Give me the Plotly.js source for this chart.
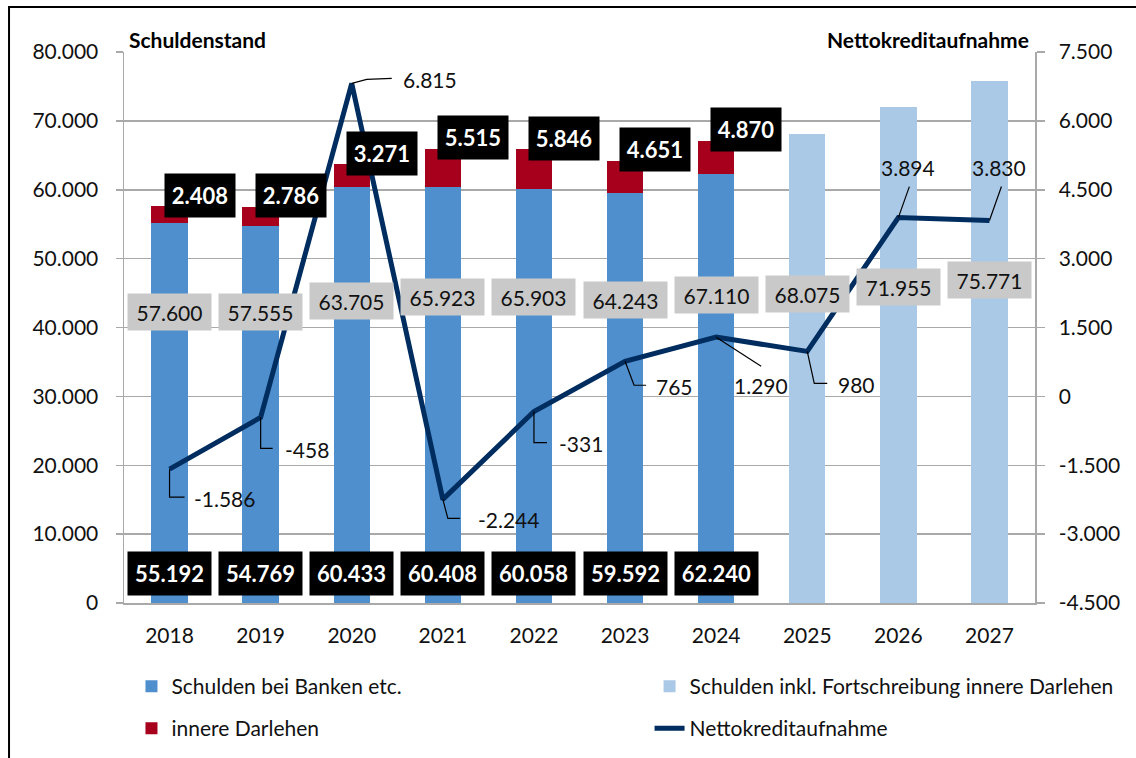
<!DOCTYPE html>
<html><head><meta charset="utf-8">
<script src="https://cdn.plot.ly/plotly-3.0.1.min.js"></script>
<style>html,body{margin:0;padding:0;background:#fff}#chart{width:1136px;height:758px}</style>
</head><body><div id="chart"></div>
<script>
// ---- data ----
const years = ['2018','2019','2020','2021','2022','2023','2024','2025','2026','2027'];
const bankYears = ['2018','2019','2020','2021','2022','2023','2024'];
const bankDebt = [55192, 54769, 60433, 60408, 60058, 59592, 62240];
const innerLoans = [2408, 2786, 3271, 5515, 5846, 4651, 4870];
const totalDebt = [57600, 57555, 63705, 65923, 65903, 64243, 67110, 68075, 71955, 75771];
const forecastYears = ['2025','2026','2027'];
const forecastDebt = [68075, 71955, 75771];
const netBorrowing = [-1586, -458, 6815, -2244, -331, 765, 1290, 980, 3894, 3830];
const leftTickVals = [0, 10000, 20000, 30000, 40000, 50000, 60000, 70000, 80000];
const leftTickText = ['0','10.000','20.000','30.000','40.000','50.000','60.000','70.000','80.000'];
const rightTickVals = [-4500, -3000, -1500, 0, 1500, 3000, 4500, 6000, 7500];
const rightTickText = ['-4.500','-3.000','-1.500','0','1.500','3.000','4.500','6.000','7.500'];

// ---- label layout (pixel offsets for line labels & leaders; y up positive) ----
const lineLabelLayout = [
  {path:'M0,0 L0,-28 L15,-28', dx:22, dy:-29, anchor:'left'},
  {path:'M0,0 L0,-31 L12,-31', dx:22, dy:-32, anchor:'left'},
  {path:'M0,0 L15,4 L40,5',    dx:49, dy:4,   anchor:'left'},
  {path:'M0,0 L5,-19 L17,-19', dx:33, dy:-20, anchor:'left'},
  {path:'M0,0 L0,-31 L13,-31', dx:23, dy:-32, anchor:'left'},
  {path:'M0,0 L9,-24 L21,-24', dx:29, dy:-25, anchor:'left'},
  {path:'M0,0 L45,-29',        dx:45, dy:-48, anchor:'center'},
  {path:'M0,0 L7,-32 L20,-32', dx:29, dy:-33, anchor:'left'},
  {path:'M0,0 L11,31',         dx:10, dy:50,  anchor:'center'},
  {path:'M0,0 L12,34',         dx:10, dy:53,  anchor:'center'}
];

function fmt(v){
  const s = Math.abs(v).toString().replace(/\B(?=(\d{3})+(?!\d))/g, '.');
  return (v < 0 ? '-' : '') + s;
}

const FONT = 'Lato, "Noto Sans", sans-serif';
const C_BANK = '#4f8fcd', C_INNER = '#a6001d', C_FORE = '#aac9e7', C_LINE = '#002d5f';

const traces = [
  {type:'bar', name:'Schulden bei Banken etc.', x:bankYears, y:bankDebt,
   marker:{color:C_BANK}, hoverinfo:'skip', legend:'legend'},
  {type:'bar', name:'Schulden inkl. Fortschreibung innere Darlehen', x:forecastYears, y:forecastDebt,
   marker:{color:C_FORE}, hoverinfo:'skip', legend:'legend2'},
  {type:'bar', name:'innere Darlehen', x:bankYears, y:innerLoans,
   marker:{color:C_INNER}, hoverinfo:'skip', legend:'legend3'},
  {type:'scatter', mode:'lines', name:'Nettokreditaufnahme', x:years, y:netBorrowing, yaxis:'y2',
   line:{color:C_LINE, width:5}, hoverinfo:'skip', legend:'legend4'}
];

const annotations = [];
const shapes = [];

// bottom black boxes (bank debt)
bankDebt.forEach((v,i)=>{
  annotations.push({xref:'x', yref:'y', x:i, y:4300, text:fmt(v), showarrow:false,
    xanchor:'center', yanchor:'middle', bgcolor:'#000', width:79, height:39, borderpad:2,
    font:{family:FONT, size:22, color:'#fff', weight:700}});
});
// inner loans black boxes (above stack)
innerLoans.forEach((v,i)=>{
  annotations.push({xref:'x', yref:'y', x:i, y:bankDebt[i]+v, text:fmt(v), showarrow:false,
    xanchor:'center', yanchor:'middle', xshift:30, yshift:11, bgcolor:'#000', width:66, height:39, borderpad:2,
    font:{family:FONT, size:22, color:'#fff', weight:700}});
});
// grey total boxes
totalDebt.forEach((v,i)=>{
  annotations.push({xref:'x', yref:'y', x:i, y:27500 + 0.256*v, text:fmt(v), showarrow:false,
    xanchor:'center', yanchor:'middle', bgcolor:'#c9c9c9', width:79, height:32, borderpad:2,
    font:{family:FONT, size:21, color:'#111'}});
});
// net borrowing labels with leader lines
netBorrowing.forEach((v,i)=>{
  const L = lineLabelLayout[i];
  annotations.push({xref:'x', yref:'y2', x:i, y:v, text:fmt(v), showarrow:false,
    xanchor:L.anchor, yanchor:'middle', xshift:L.dx, yshift:L.dy,
    font:{family:FONT, size:21, color:'#111'}});
  shapes.push({type:'path', xref:'x', yref:'y2', xsizemode:'pixel', ysizemode:'pixel',
    xanchor:i, yanchor:v, path:L.path, line:{color:'#000', width:1.2}, layer:'above'});
});

// axis headers
annotations.push({xref:'paper', yref:'paper', x:0.003, y:1.022, xanchor:'left', yanchor:'middle',
  text:'Schuldenstand', showarrow:false, font:{family:FONT, size:21, color:'#000', weight:700}});
annotations.push({xref:'paper', yref:'paper', x:0.996, y:1.022, xanchor:'right', yanchor:'middle',
  text:'Nettokreditaufnahme', showarrow:false, font:{family:FONT, size:21, color:'#000', weight:700}});

// outer frame
shapes.push({type:'rect', xref:'paper', yref:'paper', x0:-0.1262, x1:1.3, y0:-0.4, y1:1.0817,
  line:{color:'#000', width:2}, fillcolor:'rgba(0,0,0,0)', layer:'below'});

const GRID = '#a9a9a9';
function leg(x, y){
  return {orientation:'v', x:x, xanchor:'left', y:y, yanchor:'top',
    font:{family:FONT, size:21, color:'#111'}, bgcolor:'rgba(0,0,0,0)', borderwidth:0};
}
const layout = {
  width:1136, height:758,
  margin:{l:124, r:101, t:52, b:155, autoexpand:false},
  paper_bgcolor:'#fff', plot_bgcolor:'#fff',
  barmode:'stack', bargap:0.6,
  showlegend:true,
  font:{family:FONT, color:'#111'},
  xaxis:{type:'category', categoryorder:'array', categoryarray:years,
    showline:true, linecolor:GRID, linewidth:1.5, ticks:'', showgrid:false,
    tickfont:{family:FONT, size:21, color:'#111'}, ticklabelstandoff:13, fixedrange:true},
  yaxis:{range:[0,80000], tickvals:leftTickVals, ticktext:leftTickText,
    showline:true, linecolor:GRID, linewidth:1.5, ticks:'outside', ticklen:7, tickcolor:GRID, tickwidth:1.5,
    showgrid:true, gridcolor:GRID, gridwidth:1.5, zeroline:false,
    tickfont:{family:FONT, size:21, color:'#111'}, ticklabelstandoff:13, fixedrange:true},
  yaxis2:{range:[-4500,7500], tickvals:rightTickVals, ticktext:rightTickText, overlaying:'y', side:'right',
    showline:true, linecolor:GRID, linewidth:1.5, ticks:'outside', ticklen:8, tickcolor:GRID, tickwidth:1.5,
    showgrid:false, zeroline:false,
    tickfont:{family:FONT, size:21, color:'#111'}, ticklabelstandoff:10, fixedrange:true},
  legend:leg(0.0082, -0.1143),
  legend2:leg(0.5769, -0.1143),
  legend3:leg(0.0082, -0.1906),
  legend4:leg(0.5769, -0.1906),
  annotations:annotations,
  shapes:shapes
};

Plotly.newPlot('chart', traces, layout, {displayModeBar:false, staticPlot:true});
</script>
</body></html>
